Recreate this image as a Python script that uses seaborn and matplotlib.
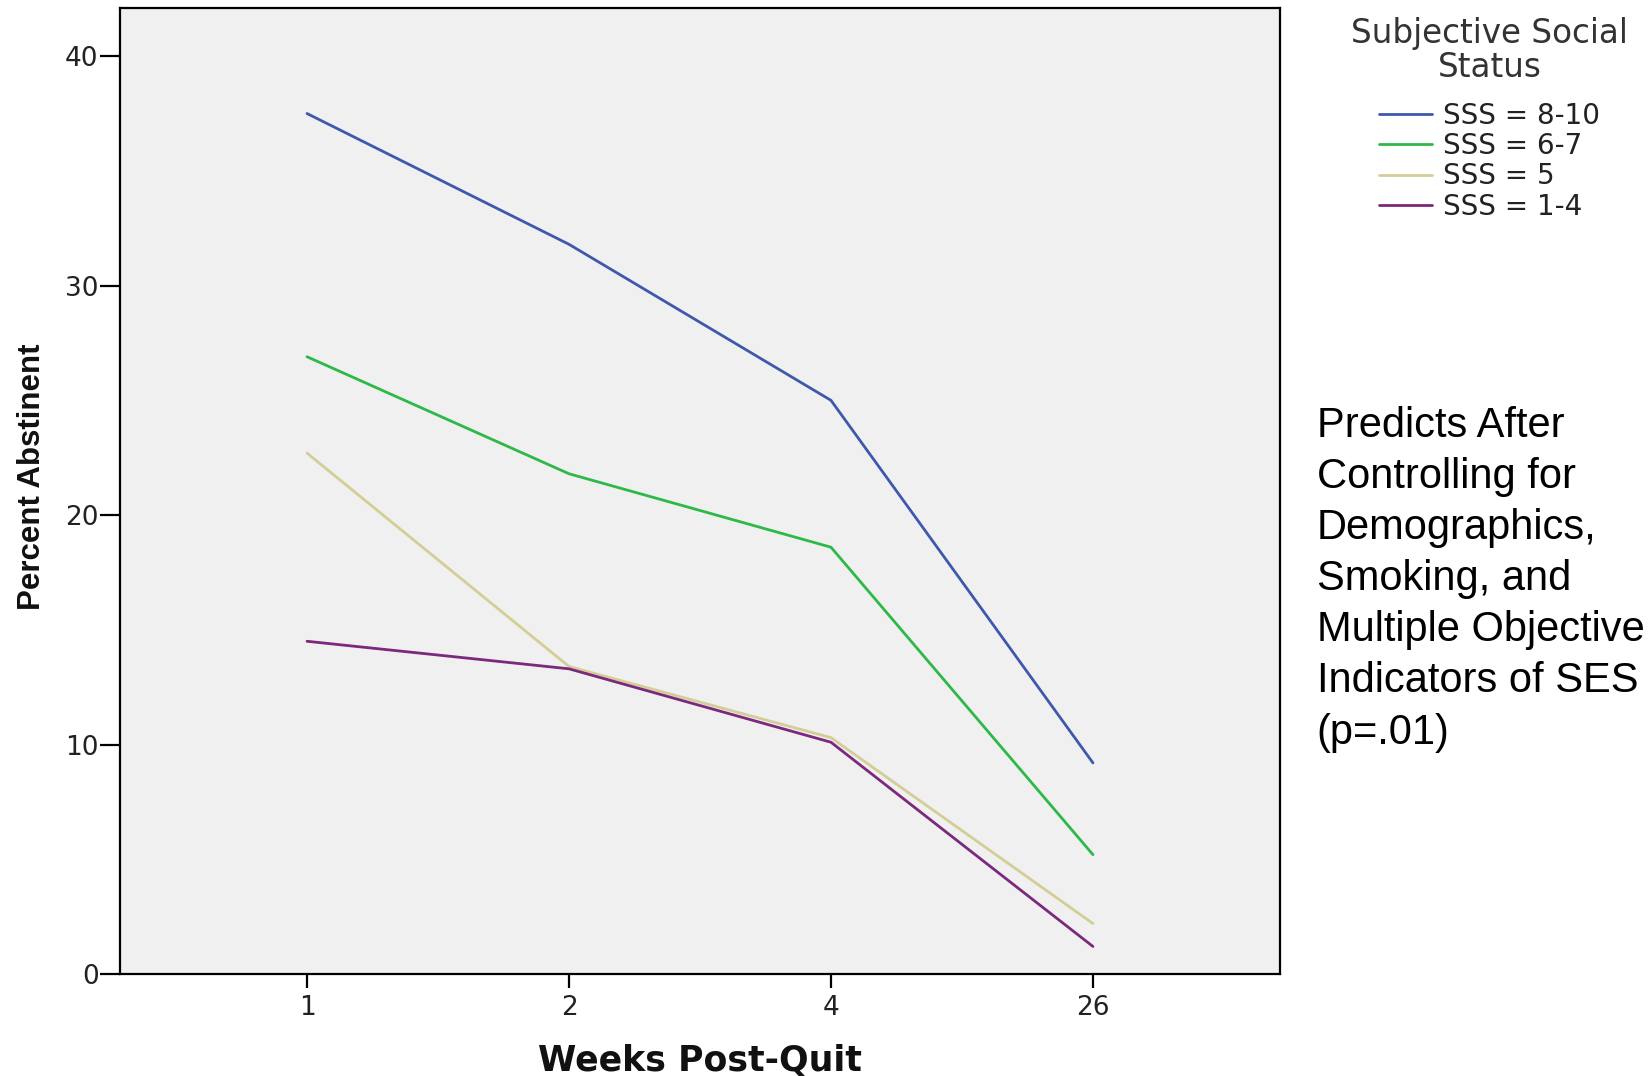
import matplotlib
matplotlib.use("Agg")
import matplotlib.pyplot as plt
import pandas as pd
import seaborn as sns

# Data
weeks = ["1", "2", "4", "26"]
groups = ["SSS = 8-10", "SSS = 6-7", "SSS = 5", "SSS = 1-4"]
sss_8_10 = [37.5, 31.8, 25.0, 9.2]
sss_6_7 = [26.9, 21.8, 18.6, 5.2]
sss_5 = [22.7, 13.4, 10.3, 2.2]
sss_1_4 = [14.5, 13.3, 10.1, 1.2]
colors = ["#3E58AC", "#2EB848", "#D3CE97", "#7C287D"]

# long-form table for seaborn
rows = []
for name, vals in zip(groups, [sss_8_10, sss_6_7, sss_5, sss_1_4]):
    for w, v in zip(weeks, vals):
        rows.append({"week": w, "value": v, "group": name})
df = pd.DataFrame(rows)

sns.set_style("white")
plt.rcParams['font.family'] = ['DejaVu Sans']

fig = plt.figure(figsize=(16.48, 10.76), dpi=100)
ax = fig.add_axes([0.0728, 0.0948, 0.7039, 0.8978])
ax.set_facecolor("#F0F0F0")

sns.lineplot(data=df, x="week", y="value", hue="group", hue_order=groups,
             palette=colors, linewidth=2, sort=False, ax=ax)

ax.set_xlim(-0.714, 3.714)
ax.set_ylim(0, 42.1)
ax.set_yticks([0, 10, 20, 30, 40])
for s in ax.spines.values():
    s.set_color("black")
    s.set_linewidth(1.6)
ax.tick_params(axis="both", direction="out", width=1.6, color="black",
               labelsize=19, labelcolor="#222222", left=True, bottom=True)
ax.tick_params(axis="y", length=14.4, pad=1)
ax.tick_params(axis="x", length=10, pad=5)

ax.set_xlabel("Weeks Post-Quit", fontsize=25, fontweight="bold", color="#111111")
ax.xaxis.set_label_coords(0.5, -0.072)
ax.set_ylabel("Percent Abstinent", fontsize=22.5, fontweight="bold", color="#111111",
              family=["Liberation Sans Narrow", "Liberation Sans"])
ax.yaxis.set_label_coords(-0.063, 0.515)

leg = ax.legend(title="Subjective Social\nStatus", loc="upper center",
                bbox_to_anchor=(0.904, 0.997), bbox_transform=fig.transFigure,
                frameon=False, fontsize=20, title_fontsize=23.5, borderpad=0,
                handlelength=1.9, handletextpad=0.4, labelspacing=0.08)
leg._legend_box.align = "center"
leg._legend_box.sep = 13
for t in leg.get_texts():
    t.set_color("#222222")
leg.get_title().set_color("#333333")
leg.get_title().set_multialignment("center")
leg.get_title().set_linespacing(1.03)

fig.text(0.799, 0.623,
         "Predicts After\nControlling for\nDemographics,\nSmoking, and\nMultiple Objective\nIndicators of SES\n(p=.01)",
         fontsize=30, family=["Liberation Sans", "DejaVu Sans"], va="top", ha="left",
         linespacing=1.36, color="black")

fig.savefig("out.png", dpi=100)
